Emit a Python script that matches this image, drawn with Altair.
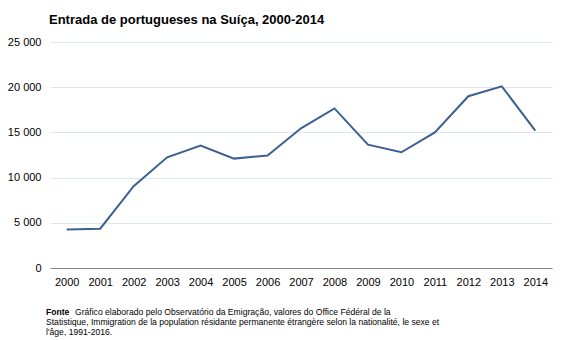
import altair as alt
import pandas as pd

years = [str(y) for y in range(2000, 2015)]
entradas = [4250, 4350, 9050, 12250, 13550, 12100, 12450, 15450, 17650,
            13650, 12800, 15000, 19000, 20100, 15200]

title_text = "Entrada de portugueses na Suíça, 2000-2014"
fonte_label = "Fonte"
fonte_lines = [
    "Gráfico elaborado pelo Observatório da Emigração, valores do Office Fédéral de la",
    "Statistique, Immigration de la population résidante permanente étrangère selon la nationalité, le sexe et",
    "l'âge, 1991-2016.",
]

df = pd.DataFrame({"ano": years, "entradas": entradas})

FONT = "Liberation Sans"
FOOT_SIZE = 8.6

line = alt.Chart(df).mark_line(color="#3b6190", strokeWidth=2).encode(
    x=alt.X("ano:O", title=None,
            scale=alt.Scale(type="point", padding=0.5),
            axis=alt.Axis(labelAngle=0, ticks=False, domainColor="#888888",
                          labelFontSize=11, labelFont=FONT, labelColor="#000000",
                          labelPadding=8, grid=False)),
    y=alt.Y("entradas:Q", title=None,
            scale=alt.Scale(domain=[0, 25000]),
            axis=alt.Axis(values=[0, 5000, 10000, 15000, 20000, 25000],
                          labelExpr="replace(format(datum.value, ',d'), ',', ' ')",
                          ticks=False, domain=False, gridColor="#dce6f2",
                          labelFontSize=11, labelFont=FONT, labelColor="#000000",
                          labelPadding=9)),
)

foot_parts = []
for txt, xp, yp in zip(fonte_lines, [25, -4, -4], [270, 280, 290]):
    foot_parts.append(
        alt.Chart(pd.DataFrame({"t": [txt]})).mark_text(
            align="left", baseline="middle", fontSize=FOOT_SIZE, font=FONT,
            color="#000000"
        ).encode(text="t:N", x=alt.value(xp), y=alt.value(yp))
    )

fonte_bold = alt.Chart(pd.DataFrame({"t": [fonte_label]})).mark_text(
    align="left", baseline="middle", fontSize=FOOT_SIZE, font=FONT,
    fontWeight="bold", color="#000000"
).encode(text="t:N", x=alt.value(-4), y=alt.value(270))

chart = alt.layer(line, fonte_bold, *foot_parts).properties(
    width=502,
    height=226,
    title=alt.TitleParams(title_text, anchor="start", frame="group",
                          font=FONT, fontSize=13, fontWeight="bold",
                          color="#000000", baseline="alphabetic",
                          offset=19, dx=-1, dy=20),
    autosize=alt.AutoSizeParams(type="none"),
    padding={"left": 50, "top": 42, "right": 15, "bottom": 72},
    background="#ffffff",
).configure_view(stroke=None)

chart.save("out.html", embed_options={"renderer": "svg", "actions": False})
